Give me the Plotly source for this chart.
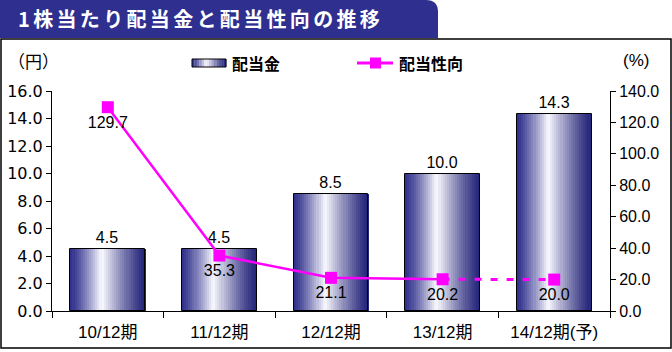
import plotly.graph_objects as go

categories = ["10/12期", "11/12期", "12/12期", "13/12期", "14/12期(予)"]
dividend = [4.5, 4.5, 8.5, 10.0, 14.3]
payout = [129.7, 35.3, 21.1, 20.2, 20.0]
dividend_labels = ["4.5", "4.5", "8.5", "10.0", "14.3"]
payout_labels = ["129.7", "35.3", "21.1", "20.2", "20.0"]
left_ticks = [0, 2, 4, 6, 8, 10, 12, 14, 16]
right_ticks = [0, 20, 40, 60, 80, 100, 120, 140]

W, H = 672, 352
ML, MR, MT, MB = 52, 62, 91, 41
PW, PH = W - ML - MR, H - MT - MB

def px(x):
    return (x - ML) / PW

def py(y):
    return (H - MB - y) / PH

FONT = "Liberation Sans, Arial, Noto Sans CJK JP, sans-serif"
FONT_W = "DejaVu Sans, Liberation Sans, sans-serif"
CJK = "Noto Sans CJK JP, sans-serif"
NAVY_L = (48, 48, 140)
NAVY_R = (36, 36, 122)
WHITE = (250, 250, 255)

def grad_color(t):
    c0 = 0.42
    if t < c0:
        s = t / c0
        a = NAVY_L
    else:
        s = 1 - (t - c0) / (1 - c0)
        a = NAVY_R
    s = s ** 1.25
    r = [round(a[k] + (WHITE[k] - a[k]) * s) for k in range(3)]
    return f"rgb({r[0]},{r[1]},{r[2]})"

fig = go.Figure()

BW = 0.67
N = 36
sw = BW / N
for i in range(N):
    t = (i + 0.5) / N
    fig.add_trace(go.Bar(
        x=categories, y=dividend, width=sw * 1.15, offset=-BW / 2 + i * sw,
        marker=dict(color=grad_color(t), line=dict(width=0)),
        showlegend=False, hoverinfo="skip"))

fig.add_trace(go.Bar(
    x=categories, y=dividend, width=BW, offset=-BW / 2,
    marker=dict(color="rgba(0,0,0,0)", line=dict(color="black", width=1)),
    text=dividend_labels, textposition="outside", cliponaxis=False,
    textfont=dict(family=FONT, size=16, color="black"),
    showlegend=False, hoverinfo="skip"))

MAG = "#FF00FF"
fig.add_trace(go.Scatter(
    x=categories[:4], y=payout[:4], yaxis="y2", mode="lines",
    line=dict(color=MAG, width=2.5), showlegend=False, hoverinfo="skip"))
fig.add_trace(go.Scatter(
    x=categories[3:], y=payout[3:], yaxis="y2", mode="lines",
    line=dict(color=MAG, width=3, dash="7px,9px"), showlegend=False, hoverinfo="skip"))
fig.add_trace(go.Scatter(
    x=categories, y=payout, yaxis="y2", mode="markers+text",
    marker=dict(symbol="square", size=12, color=MAG),
    text=payout_labels, textposition="bottom center", cliponaxis=False,
    textfont=dict(family=FONT, size=16, color="black"),
    showlegend=False, hoverinfo="skip"))

shapes = []
# outer frame
shapes.append(dict(type="rect", xref="paper", yref="paper",
                   x0=px(1), x1=px(671), y0=py(348), y1=py(39),
                   line=dict(color="black", width=1.5), fillcolor="rgba(0,0,0,0)"))
# title tab with rounded top-right corner
x0, x1, y0, y1 = px(0), px(438), py(38), py(0)
rx, ry = 12 / PW, 12 / PH
shapes.append(dict(type="path", xref="paper", yref="paper",
                   path=f"M {x0},{y0} L {x0},{y1} L {x1-rx},{y1} Q {x1},{y1} {x1},{y1-ry} L {x1},{y0} Z",
                   fillcolor="#2E2F8E", line=dict(width=0)))
# legend gradient box
lx0, lx1, ly0, ly1 = 192, 226, 59, 67
M = 14
for i in range(M):
    t = (i + 0.5) / M
    shapes.append(dict(type="rect", xref="paper", yref="paper",
                       x0=px(lx0 + (lx1 - lx0) * i / M), x1=px(lx0 + (lx1 - lx0) * (i + 1.1) / M),
                       y0=py(ly1), y1=py(ly0), fillcolor=grad_color(t), line=dict(width=0)))
shapes.append(dict(type="rect", xref="paper", yref="paper",
                   x0=px(lx0), x1=px(lx1), y0=py(ly1), y1=py(ly0),
                   line=dict(color="black", width=1), fillcolor="rgba(0,0,0,0)"))
# legend line + marker
shapes.append(dict(type="line", xref="paper", yref="paper",
                   x0=px(357), x1=px(393), y0=py(63), y1=py(63),
                   line=dict(color=MAG, width=3)))
shapes.append(dict(type="rect", xref="paper", yref="paper",
                   x0=px(370), x1=px(381), y0=py(68.5), y1=py(57.5),
                   fillcolor=MAG, line=dict(width=0)))

title_text = "\u2006".join("1株当たり配当金と配当性向の推移")
annotations = [
    dict(text=f"<b>{title_text}</b>", xref="paper", yref="paper", x=px(16), y=py(19),
         xanchor="left", yanchor="middle", showarrow=False,
         font=dict(family=CJK, size=20, color="white")),
    dict(text="<b>配当金</b>", xref="paper", yref="paper", x=px(230), y=py(63),
         xanchor="left", yanchor="middle", showarrow=False,
         font=dict(family=CJK, size=16, color="black")),
    dict(text="<b>配当性向</b>", xref="paper", yref="paper", x=px(397), y=py(63),
         xanchor="left", yanchor="middle", showarrow=False,
         font=dict(family=CJK, size=16, color="black")),
    dict(text="（円）", xref="paper", yref="paper", x=px(33), y=py(60),
         xanchor="center", yanchor="middle", showarrow=False,
         font=dict(family=CJK, size=17, color="black")),
    dict(text="(%)", xref="paper", yref="paper", x=px(636), y=py(60),
         xanchor="center", yanchor="middle", showarrow=False,
         font=dict(family=FONT, size=17, color="black")),
]

fig.update_layout(
    width=W, height=H, autosize=False,
    margin=dict(l=ML, r=MR, t=MT, b=MB, pad=0, autoexpand=False),
    paper_bgcolor="white", plot_bgcolor="white",
    barmode="overlay", bargap=0,
    showlegend=False,
    shapes=shapes, annotations=annotations,
    font=dict(family=FONT, size=15, color="black"),
    xaxis=dict(type="category", showline=True, linecolor="black", linewidth=1,
               ticks="outside", tickson="boundaries", ticklen=6, tickcolor="black",
               showgrid=False, ticklabelstandoff=6, automargin=False,
               tickfont=dict(family=FONT, size=17, color="black")),
    yaxis=dict(range=[0, 16], tickvals=left_ticks, tickformat=".1f",
               showline=True, linecolor="black", linewidth=1, automargin=False,
               ticks="outside", ticklen=5, tickcolor="black", showgrid=False, zeroline=False,
               tickfont=dict(family=FONT_W, size=16, color="black")),
    yaxis2=dict(range=[0, 140], tickvals=right_ticks, tickformat=".1f",
                overlaying="y", side="right", automargin=False,
                showline=True, linecolor="black", linewidth=1,
                ticks="outside", ticklen=5, tickcolor="black", showgrid=False, zeroline=False,
                tickfont=dict(family=FONT, size=16, color="black")),
)

fig.write_html("out.html")
